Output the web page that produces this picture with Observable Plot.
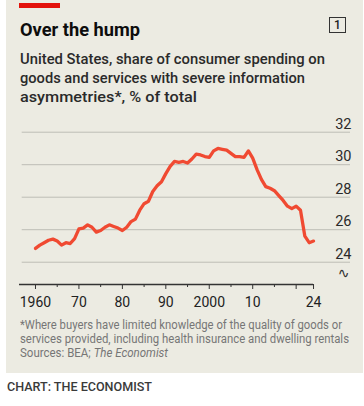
<!DOCTYPE html>
<html>
<head>
<meta charset="utf-8">
<script src="https://cdn.jsdelivr.net/npm/d3@7"></script>
<script src="https://cdn.jsdelivr.net/npm/@observablehq/plot@0.6"></script>
<style>
  html, body { margin: 0; padding: 0; background: #ffffff; }
  #root { position: relative; width: 364px; height: 406px; overflow: hidden; font-family: Roboto, "Noto Sans", sans-serif; }
  #panel { position: absolute; left: 6px; top: 0; width: 357px; height: 373px; background: #ecebe2; }
  #redbar { position: absolute; left: 19px; top: 3px; width: 41px; height: 5px; background: #e3120b; }
  .ln { position: absolute; white-space: nowrap; transform-origin: 0 0; }
  #box { position: absolute; left: 329px; top: 17px; width: 15px; height: 14px; border: 1px solid #333; font: 500 12px Roboto, sans-serif; color: #222; text-align: center; line-height: 14px; }
  #chart { position: absolute; left: 0; top: 110px; }
</style>
</head>
<body>
<div id="root">
  <div id="panel"></div>
  <div id="redbar"></div>
  <div id="box">1</div>
  <div id="chart"></div>
</div>
<script>
// ---- data ----
const years = [
  1960,1961,1962,1963,1964,1965,1966,1967,1968,1969,
  1970,1971,1972,1973,1974,1975,1976,1977,1978,1979,
  1980,1981,1982,1983,1984,1985,1986,1987,1988,1989,
  1990,1991,1992,1993,1994,1995,1996,1997,1998,1999,
  2000,2001,2002,2003,2004,2005,2006,2007,2008,2009,
  2010,2011,2012,2013,2014,2015,2016,2017,2018,2019,
  2020,2021,2022,2023,2024
];
const shares = [
  24.85,25.05,25.2,25.35,25.42,25.3,25.05,25.2,25.15,25.45,
  26.05,26.1,26.3,26.15,25.85,25.95,26.15,26.3,26.2,26.1,
  25.95,26.15,26.5,26.65,27.2,27.6,27.75,28.35,28.7,28.95,
  29.45,29.9,30.2,30.15,30.2,30.1,30.35,30.65,30.6,30.5,
  30.45,30.85,31.0,30.95,30.9,30.7,30.5,30.5,30.45,30.85,
  30.4,29.7,29.1,28.65,28.55,28.4,28.1,27.8,27.45,27.3,
  27.45,27.2,25.6,25.2,25.3
];
const yTicks = [24, 26, 28, 30, 32];
const xMajor = [1960, 1970, 1980, 1990, 2000, 2010, 2020, 2024];
const xMinor = [1965, 1975, 1985, 1995, 2005, 2015];
const xLabels = {1960: "1960", 1970: "70", 1980: "80", 1990: "90", 2000: "2000", 2010: "10", 2020: "", 2024: "24"};

const title = "Over the hump";
const subtitle = [
  "United States, share of consumer spending on",
  "goods and services with severe information",
  "asymmetries*, % of total"
];
const footnote = [
  "*Where buyers have limited knowledge of the quality of goods or",
  "services provided, including health insurance and dwelling rentals",
  "Sources: BEA; <i>The Economist</i>"
];
const credit = "CHART: THE ECONOMIST";

const data = years.map((year, i) => ({year, value: shares[i]}));

// ---- text lines ----
const root = document.getElementById("root");
function addLine(html, x, baseline, fs, weight, color, targetW) {
  const d = document.createElement("div");
  d.className = "ln";
  d.innerHTML = html;
  d.style.left = x + "px";
  d.style.fontSize = fs + "px";
  d.style.lineHeight = fs + "px";
  d.style.fontWeight = weight;
  d.style.color = color;
  d.style.top = (baseline - 0.842 * fs) + "px";
  root.appendChild(d);
  const w = d.getBoundingClientRect().width;
  if (targetW && w > 0) d.style.transform = `scaleX(${targetW / w})`;
  return d;
}
function layoutText() {
  root.querySelectorAll(".ln").forEach(e => e.remove());
  addLine(title, 20, 36, 18, 700, "#0d0d0d", 120);
  const subW = [305, 285, 177];
  subtitle.forEach((t, i) => addLine(t, 20, 64 + i * 18.8, 14, 500, "#2a2a2a", subW[i]));
  const fnW = [322, 329, 148];
  footnote.forEach((t, i) => addLine(t, 20, 329 + i * 14, 12, 400, "#767676", fnW[i]));
  addLine(credit, 7, 391, 13, 500, "#3a3a3a", 145);
}
layoutText();
if (document.fonts && document.fonts.ready) document.fonts.ready.then(layoutText);

// ---- chart ----
const xDomain = [1956.32, 2032.74];
const yDomain = [22.628, 32];

const chart = Plot.plot({
  width: 364,
  height: 204,
  marginLeft: 19,
  marginRight: 13,
  marginTop: 21.7,
  marginBottom: 30,
  style: {background: "none", fontFamily: "Roboto, sans-serif", color: "#222"},
  x: {domain: xDomain, label: null},
  y: {domain: yDomain, axis: null, label: null},
  marks: [
    Plot.ruleY(yTicks, {stroke: "#bdbdb5", strokeWidth: 1, insetLeft: 2.7, insetRight: 1}),
    Plot.text(yTicks, {y: d => d, frameAnchor: "right", textAnchor: "end", lineAnchor: "bottom", dy: -3.4, text: d => String(d), fontSize: 14.5, fill: "#2a2a2a"}),
    Plot.axisX({ticks: xMinor, tickSize: 3, tickFormat: () => "", stroke: "#333", label: null}),
    Plot.axisX({ticks: xMajor, tickSize: 5, tickPadding: 7.7, tickFormat: d => xLabels[d], fontSize: 14, stroke: "#333", fill: "#222", label: null}),
    Plot.ruleY([yDomain[0]], {x1: () => xDomain[0], x2: () => years[years.length - 1], stroke: "#333", strokeWidth: 1.4}),
    Plot.text([0], {frameAnchor: "bottom-right", textAnchor: "middle", lineAnchor: "middle", dx: -8, dy: -11, text: () => "∿", fontSize: 14, fontFamily: "DejaVu Sans", fill: "#333"}),
    Plot.line(data, {x: "year", y: "value", stroke: "#f04a32", strokeWidth: 3.3, strokeLinejoin: "round", strokeLinecap: "round"})
  ]
});
document.getElementById("chart").appendChild(chart);
</script>
</body>
</html>
